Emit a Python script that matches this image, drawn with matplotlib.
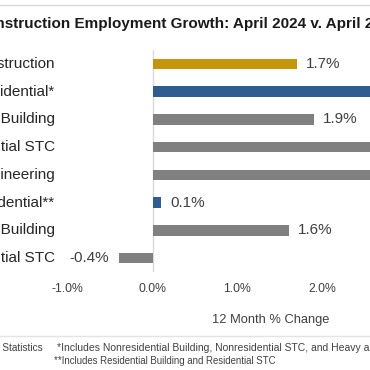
import matplotlib.pyplot as plt
from matplotlib.transforms import blended_transform_factory

plt.rcParams['font.family'] = ['Liberation Sans', 'DejaVu Sans']

categories = ["Construction", "Nonresidential*", "Nonresidential Building",
              "Nonresidential STC", "Heavy and Civil Engineering",
              "Residential**", "Residential Building", "Residential STC"]
growth = [1.7, 3.2, 1.9, 3.6, 4.3, 0.1, 1.6, -0.4]
colors = ["#C5960A", "#2F5D92", "#808080", "#808080", "#808080",
          "#2F5D92", "#808080", "#808080"]
xticks = [-1, 0, 1, 2, 3, 4]

fig = plt.figure(figsize=(3.7, 3.7), dpi=100)
W = 370.0

# axes placed so that 0% sits at x=152px and 1% = 85px
x0, x1 = -1.5, 5.0
zero_px, unit_px = 152.5, 85
left_px = zero_px + unit_px * x0
right_px = zero_px + unit_px * x1
ax = fig.add_axes([left_px / W, (W - 272) / W, (right_px - left_px) / W, 222 / W])

ypos = list(range(len(categories)))
ax.barh(ypos, growth, height=0.37, color=colors)
ax.set_xlim(x0, x1)
ax.set_ylim(len(categories) - 0.5, -0.5)
ax.axvline(0, color="#D9D9D9", lw=1, zorder=0)

for s in ax.spines.values():
    s.set_visible(False)
ax.set_yticks([])
ax.set_xticks(xticks)
ax.set_xticklabels([f"{v:.1f}%" for v in xticks], fontsize=8.8, color="#404040")
ax.tick_params(axis="x", length=0, pad=8)

for y, v in zip(ypos, growth):
    if v >= 0:
        ax.annotate(f"{v:.1f}%", (v, y), xytext=(6.5, 0), textcoords="offset points",
                    va="center", ha="left", fontsize=11, color="#404040")
    else:
        ax.annotate(f"{v:.1f}%", (v, y), xytext=(-6.5, 0), textcoords="offset points",
                    va="center", ha="right", fontsize=11, color="#404040")

tr = blended_transform_factory(fig.transFigure, ax.transData)
for y, c in zip(ypos, categories):
    ax.text(55 / W, y, c, transform=tr, ha="right", va="center",
            fontsize=11, color="#262626", clip_on=False)

fig.text(271 / W, 1 - 320 / W, "12 Month % Change", ha="center", va="center",
         fontsize=9.3, color="#404040")

fig.text(-25 / W, 1 - 24 / W, "Construction Employment Growth: April 2024 v. April 2023",
         ha="left", va="center", fontsize=11, fontweight="bold", color="#1a1a1a")

fig.add_artist(plt.Line2D([0, 1], [1 - 5 / W, 1 - 5 / W], transform=fig.transFigure,
                          color="#D9D9D9", lw=1))
fig.add_artist(plt.Line2D([0, 1], [1 - 336 / W, 1 - 336 / W], transform=fig.transFigure,
                          color="#E3E3E3", lw=1))

fig.text(43 / W, 1 - 348 / W, "Source: U.S. Bureau of Labor Statistics",
         ha="right", va="center", fontsize=7.2, color="#404040")
fig.text(57 / W, 1 - 348 / W,
         "*Includes Nonresidential Building, Nonresidential STC, and Heavy and Civil Engineering",
         ha="left", va="center", fontsize=7.5, color="#404040")
fig.text(54 / W, 1 - 361 / W, "**Includes Residential Building and Residential STC",
         ha="left", va="center", fontsize=6.9, color="#404040")

fig.savefig("out.png", dpi=100)
